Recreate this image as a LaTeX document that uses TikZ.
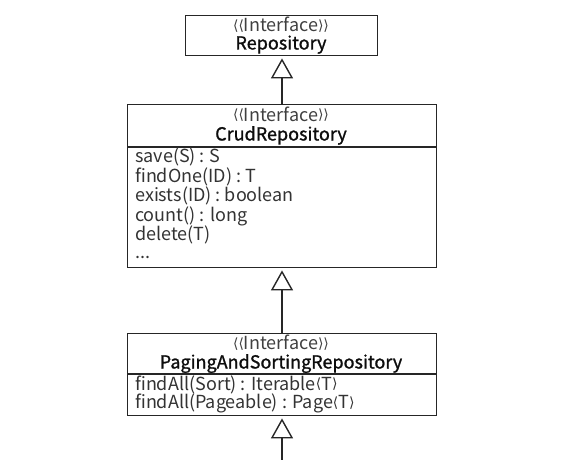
\documentclass[tikz,border=0pt]{standalone}
\usepackage{fontspec}
\setmainfont{Noto Sans CJK KR}
\newfontfamily\medf[FakeBold=1.2]{Noto Sans CJK KR}
\newfontfamily\brk{DejaVu Sans}
\usetikzlibrary{arrows.meta}
\newcommand{\la}{\raisebox{1.2pt}{\fontsize{14}{14}\selectfont\brk\char"27E8}}
\newcommand{\ra}{\raisebox{1.2pt}{\fontsize{14}{14}\selectfont\brk\char"27E9}}
\begin{document}
\begin{tikzpicture}[x=1pt,y=-1pt,
  umlbox/.style={draw=black!85,line width=1.4pt,anchor=north west,inner sep=0pt},
  stereo/.style={font=\fontsize{18}{20}\selectfont,text=black!75,inner sep=0pt,text height=12pt,text depth=3pt},
  cname/.style={font=\fontsize{18}{20}\selectfont\medf,text=black!95,inner sep=0pt,text height=12pt,text depth=3pt},
  meth/.style={font=\fontsize{18}{20}\selectfont,text=black!80,inner sep=0pt,anchor=west,text height=12pt,text depth=3pt},
  inherit/.style={draw=black!85,line width=1.4pt,-{Triangle[open,length=20pt,width=22pt,line width=1.4pt]},shorten >=2pt},
  sep/.style={draw=black!85,line width=1.4pt}]
\useasboundingbox (0,0) rectangle (586,460);
% Repository
\node[umlbox,minimum width=192pt,minimum height=40pt] (repo) at (185,15) {};
\node[stereo] (repoS) at (281,27) {\la\la Interface\ra\ra};
\node[cname] (repoN) at (281,45) {Repository};
% CrudRepository
\node[umlbox,minimum width=309pt,minimum height=163pt] (crud) at (127,104) {};
\node[stereo] (crudS) at (281,116.5) {\la\la Interface\ra\ra};
\node[cname] (crudN) at (281,136) {CrudRepository};
\draw[sep] (127,147) -- (436,147);
\node[meth] (m1) at (135,158) {save(S) : S};
\node[meth] (m2) at (135,177.5) {findOne(ID) : T};
\node[meth] (m3) at (135,197) {exists(ID) : boolean};
\node[meth] (m4) at (135,216.5) {count() : long};
\node[meth] (m5) at (135,236) {delete(T)};
\node[meth] (m6) at (135,254) {...};
% PagingAndSortingRepository
\node[umlbox,minimum width=309pt,minimum height=82pt] (pag) at (127,333) {};
\node[stereo] (pagS) at (281,345) {\la\la Interface\ra\ra};
\node[cname] (pagN) at (281,364) {PagingAndSortingRepository};
\draw[sep] (127,374) -- (436,374);
\node[meth] (p1) at (135,385.5) {findAll(Sort) : Iterable\la T\ra};
\node[meth] (p2) at (135,404) {findAll(Pageable) : Page\la T\ra};
% connectors
\coordinate (bot) at (282,462);
\draw[inherit] (crud.north -| 282,0) -- (repo.south -| 282,0);
\draw[inherit] (pag.north -| 282,0) -- (crud.south -| 282,0);
\draw[inherit] (bot) -- (pag.south -| 282,0);
\end{tikzpicture}
\end{document}
